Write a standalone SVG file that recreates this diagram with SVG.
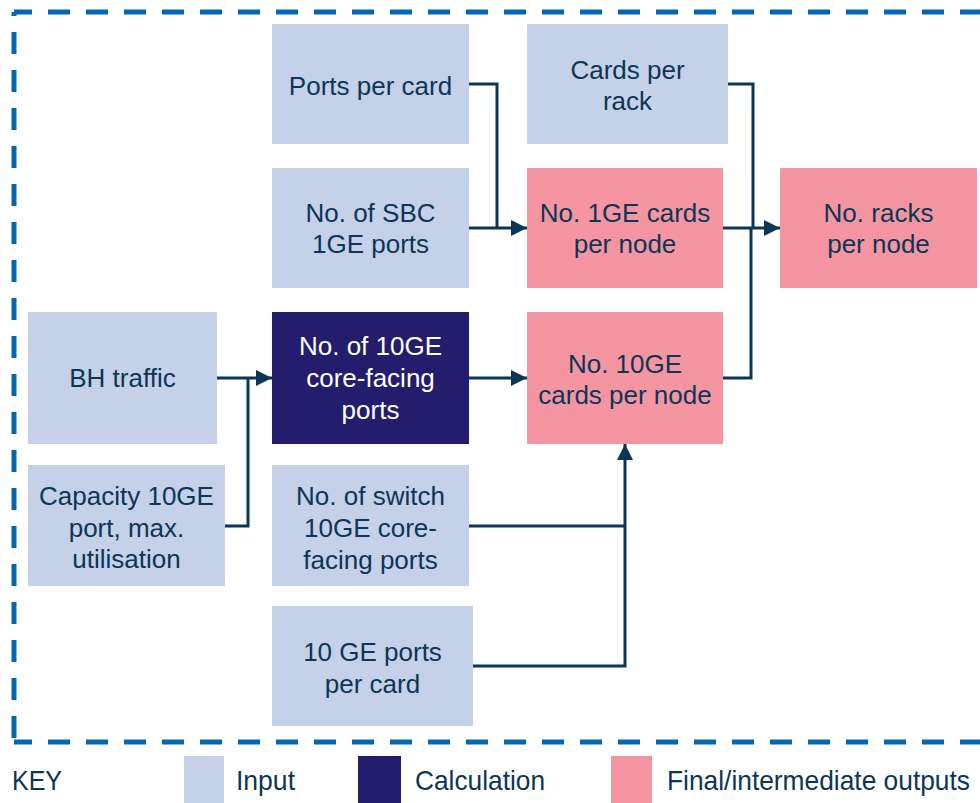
<svg xmlns="http://www.w3.org/2000/svg" width="980" height="803" viewBox="0 0 980 803">
<style>
.in{fill:#C5D0E9}
.out{fill:#F595A2}
.calc{fill:#241D6E}
text{font-family:"Liberation Sans",Arial,sans-serif;font-size:26px;fill:#0B3656;text-anchor:middle}
.w{fill:#FFFFFF}
.key{font-size:28px;text-anchor:start}
.c{fill:none;stroke:#0B3656;stroke-width:3}
.b{fill:none;stroke:#0068B4;stroke-width:5;stroke-dasharray:22 16}
</style>
<defs>
<marker id="ah" markerUnits="userSpaceOnUse" markerWidth="16" markerHeight="16" refX="16" refY="8" orient="auto">
<path d="M0,0 L16,8 L0,16 z" fill="#0B3656"/>
</marker>
</defs>
<g id="border">
<path class="b" d="M14,12 H1000" stroke-dashoffset="4"/>
<path class="b" d="M14,12 V742" stroke-dashoffset="18"/>
<path class="b" d="M14,742 H1000" stroke-dashoffset="4"/>
</g>
<g id="connectors">
<path class="c" d="M469,84 H497 V228"/>
<path class="c" d="M469,228 H527" marker-end="url(#ah)"/>
<path class="c" d="M728,84 H753 V228"/>
<path class="c" d="M723,228 H780" marker-end="url(#ah)"/>
<path class="c" d="M723,378 H751 V228"/>
<path class="c" d="M217,378 H272" marker-end="url(#ah)"/>
<path class="c" d="M225,526 H248 V378"/>
<path class="c" d="M469,378 H527" marker-end="url(#ah)"/>
<path class="c" d="M469,526 H625"/>
<path class="c" d="M473,666 H625 V444" marker-end="url(#ah)"/>
</g>
<g id="ports-per-card"><rect class="in" x="272" y="24" width="197" height="120"/><text x="370.5" y="95">Ports per card</text></g>
<g id="cards-per-rack"><rect class="in" x="527" y="24" width="201" height="120"/><text x="627.5" y="79">Cards per</text><text x="627.5" y="110">rack</text></g>
<g id="sbc-1ge-ports"><rect class="in" x="272" y="168" width="197" height="120"/><text x="370.5" y="222">No. of SBC</text><text x="370.5" y="253">1GE ports</text></g>
<g id="1ge-cards"><rect class="out" x="527" y="168" width="196" height="120"/><text x="625" y="222">No. 1GE cards</text><text x="625" y="253">per node</text></g>
<g id="racks-per-node"><rect class="out" x="780" y="168" width="197" height="120"/><text x="878.5" y="222">No. racks</text><text x="878.5" y="253">per node</text></g>
<g id="bh-traffic"><rect class="in" x="28" y="312" width="189" height="132"/><text x="122.5" y="387">BH traffic</text></g>
<g id="10ge-core-ports"><rect class="calc" x="272" y="312" width="197" height="132"/><text class="w" x="370.5" y="355">No. of 10GE</text><text class="w" x="370.5" y="387">core-facing</text><text class="w" x="370.5" y="419">ports</text></g>
<g id="10ge-cards"><rect class="out" x="527" y="312" width="196" height="132"/><text x="625" y="373">No. 10GE</text><text x="625" y="404">cards per node</text></g>
<g id="capacity"><rect class="in" x="28" y="465" width="197" height="121"/><text x="126.5" y="505">Capacity 10GE</text><text x="126.5" y="537">port, max.</text><text x="126.5" y="568">utilisation</text></g>
<g id="switch-ports"><rect class="in" x="272" y="465" width="197" height="121"/><text x="370.5" y="505">No. of switch</text><text x="370.5" y="537">10GE core-</text><text x="370.5" y="569">facing ports</text></g>
<g id="10ge-ports-per-card"><rect class="in" x="272" y="606" width="201" height="120"/><text x="372.5" y="661">10 GE ports</text><text x="372.5" y="693">per card</text></g>
<g id="key">
<text class="key" x="12" y="790" textLength="50" lengthAdjust="spacingAndGlyphs">KEY</text>
<rect class="in" x="184" y="756" width="40" height="47"/>
<text class="key" x="236" y="790" textLength="59" lengthAdjust="spacingAndGlyphs">Input</text>
<rect class="calc" x="358" y="756" width="43" height="47"/>
<text class="key" x="415" y="790" textLength="130" lengthAdjust="spacingAndGlyphs">Calculation</text>
<rect class="out" x="611" y="756" width="41" height="47"/>
<text class="key" x="667" y="790" textLength="303" lengthAdjust="spacingAndGlyphs">Final/intermediate outputs</text>
</g>
</svg>
